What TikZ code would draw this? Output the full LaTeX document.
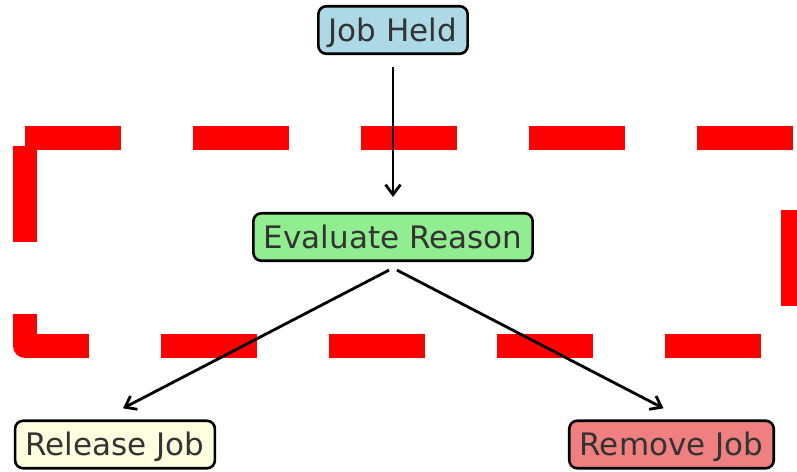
\documentclass[tikz,border=0pt]{standalone}
\usepackage{fontspec}
\setmainfont{DejaVu Sans}
\usetikzlibrary{arrows.meta}
\definecolor{txt}{HTML}{333333}
\definecolor{heldfill}{HTML}{ADD8E6}
\definecolor{evalfill}{HTML}{90EE90}
\definecolor{relfill}{HTML}{FFFFE0}
\definecolor{remfill}{HTML}{F08080}
\begin{document}
\begin{tikzpicture}[x=1pt,y=-1pt,
  stepbox/.style={draw=black, line width=2.6pt, rounded corners=8pt,
    inner xsep=10.5pt, inner ysep=0pt, minimum height=47.5pt, text=txt,
    font=\fontsize{31}{37}\selectfont, text height=22.5pt, text depth=0pt},
  flow/.style={draw=black, line width=2.8pt,
    -{Straight Barb[length=10pt,width=15pt]}},
  zone/.style={draw=red, line width=24pt, dash pattern=on 96pt off 72pt,
    line join=round}]
\useasboundingbox (0,0) rectangle (797,471);
% dashed red frame behind the flow
\draw[zone] (25,138) -- (793,138) -- (793,346) -- (25,346) -- cycle;
% steps
\node[stepbox, fill=heldfill] (held)    at (393,30)    {Job Held};
\node[stepbox, fill=evalfill] (eval)    at (393,237)   {Evaluate Reason};
\node[stepbox, fill=relfill]  (release) at (115,444.5) {Release Job};
\node[stepbox, fill=remfill]  (remove)  at (671.5,444.5) {Remove Job};
% connectors
\draw[flow, shorten <=12pt, shorten >=15pt] (held.south) -- (eval.north);
\draw[flow, shorten <=4.5pt, shorten >=9pt]
  ([yshift=-6pt]eval.south) -- ([yshift=7pt]release.north);
\draw[flow, shorten <=4.5pt, shorten >=9pt]
  ([yshift=-6pt]eval.south) -- ([yshift=7pt]remove.north);
\end{tikzpicture}
\end{document}
